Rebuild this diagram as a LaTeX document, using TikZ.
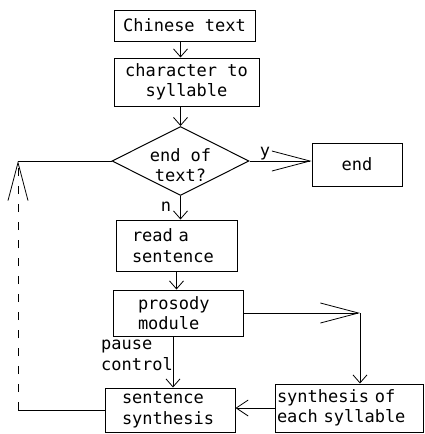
\documentclass[tikz,border=0pt]{standalone}
\usepackage{fontspec}
\setmainfont{DejaVu Sans Mono}
\usetikzlibrary{arrows.meta,shapes.geometric}
\begin{document}
\begin{tikzpicture}[x=1pt,y=-1pt,
  every node/.style={font=\fontsize{17}{20.5}\selectfont, inner sep=0pt},
  box/.style={draw, line width=1pt},
  conn/.style={line width=0.8pt},
  small/.style={conn, -{Straight Barb[length=8pt,width=14pt]}},
  mid/.style={conn, -{Straight Barb[length=12pt,width=16pt]}},
  big/.style={conn, -{Straight Barb[length=38pt,width=20pt]}}]
\useasboundingbox (0,0) rectangle (425,434);
\node[box, minimum width=141pt, minimum height=31pt] (ct) at (184.5,25.5) {Chinese text};
\node[box, minimum width=145pt, minimum height=48pt, align=center] (cs) at (186.5,82) {character to\\syllable};
\node[draw, line width=1pt, diamond, minimum width=137pt, minimum height=69pt] (dia) at (180.5,161) {};
\node[align=center] (diat) at (180.5,165) {end of\\text?};
\node[box, minimum width=90pt, minimum height=43pt] (end) at (357,164.5) {end};
\node[box, minimum height=51pt, inner xsep=16pt, text width=89pt, align=left] (rs) at (176.5,245.5) {read a\\sentence};
\node[box, minimum height=46pt, inner xsep=25pt, text width=80pt, align=left] (pm) at (178,313) {prosody\\module};
\node[box, minimum height=44pt, inner xsep=17pt, text width=96pt, align=left] (ss) at (170,410) {sentence\\synthesis};
\node[box, minimum height=48pt, inner xsep=2pt, text width=144pt, align=left] (se) at (349,408) {synthesis of\\each syllable};
\coordinate (lx) at (18,0);
\coordinate (pr) at (360,313);
% connectors
\draw[small] (ct.south -| dia) -- (cs.north -| dia);
\draw[small] (cs.south -| dia) -- (dia.north);
\draw[small] (dia.south) -- (rs.north -| dia);
\draw[big] (dia.east) -- (end.west |- dia.east);
\draw[small] (rs.south) -- (pm.north -| rs.south);
\draw[big] (pm.east) -- (pr);
\draw[small] (pr) -- (pr |- se.north);
\draw[small] ([xshift=-5pt]pm.south) -- ([xshift=-5pt]pm.south |- ss.north);
\draw[mid] (se.west) -- (se.west -| ss.east);
\draw[conn] (ss.west) -- (ss.west -| lx);
\draw[big, dash pattern=on 8pt off 10pt] (ss.west -| lx) -- (dia.west -| lx);
\draw[conn] (dia.west) -- (dia.west -| lx);
% labels
\node (nl) at (166,207) {n};
\node (yl) at (265,154) {y};
\node[anchor=north west, align=left] (pl) at (101,340) {pause\\control};
\end{tikzpicture}
\end{document}
